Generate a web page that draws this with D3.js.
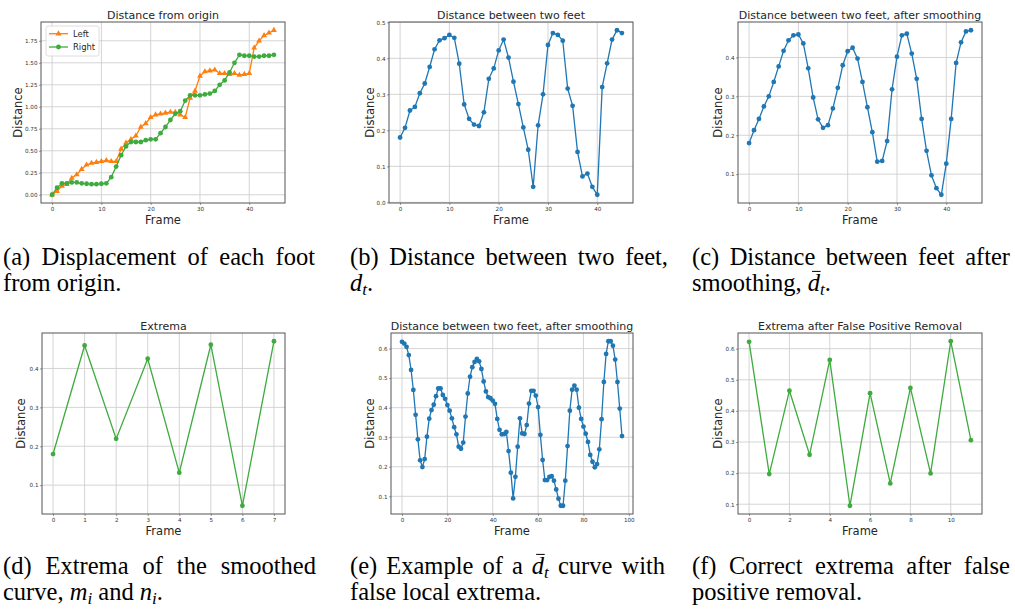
<!DOCTYPE html>
<html>
<head>
<meta charset='utf-8'>
<title>Foot distance panels</title>
<script src='https://cdn.jsdelivr.net/npm/d3@7'></script>
<style>
  body { margin: 0; background: #fff; }
  svg text { font-family: 'DejaVu Sans', sans-serif; fill: #262626; }
  .tick text { fill: #333; }
  .cap text { font-family: 'Liberation Serif', 'Times New Roman', serif; fill: #000; }
</style>
</head>
<body>
<svg width='1015' height='609'></svg>
<script>
const svg = d3.select('svg')

// ---- data ----
const leftFoot = [0.00, 0.04, 0.10, 0.12, 0.19, 0.23, 0.29, 0.34, 0.36, 0.37,
  0.38, 0.39, 0.38, 0.38, 0.52, 0.59, 0.63, 0.67, 0.77, 0.81,
  0.88, 0.91, 0.92, 0.93, 0.94, 0.94, 0.91, 0.88, 1.10, 1.18,
  1.35, 1.40, 1.41, 1.42, 1.38, 1.38, 1.37, 1.38, 1.36, 1.37,
  1.38, 1.67, 1.75, 1.81, 1.84, 1.87]
const rightFoot = [0.00, 0.08, 0.13, 0.13, 0.14, 0.14, 0.13, 0.125, 0.12, 0.12,
  0.125, 0.13, 0.20, 0.32, 0.45, 0.55, 0.60, 0.60, 0.60, 0.62,
  0.63, 0.63, 0.70, 0.77, 0.85, 0.92, 0.95, 1.07, 1.13, 1.13,
  1.13, 1.14, 1.15, 1.18, 1.25, 1.30, 1.39, 1.50, 1.59, 1.58,
  1.58, 1.57, 1.57, 1.58, 1.58, 1.59]
const feetDist = [0.180, 0.207, 0.255, 0.265, 0.303, 0.330, 0.376, 0.425, 0.450, 0.456,
  0.465, 0.457, 0.385, 0.272, 0.232, 0.216, 0.212, 0.250, 0.343, 0.372,
  0.422, 0.452, 0.402, 0.335, 0.273, 0.208, 0.146, 0.043, 0.214, 0.300,
  0.437, 0.470, 0.465, 0.449, 0.316, 0.268, 0.140, 0.072, 0.080, 0.043,
  0.021, 0.320, 0.386, 0.452, 0.478, 0.470]
const feetSmooth = [0.180, 0.213, 0.242, 0.274, 0.300, 0.337, 0.377, 0.417, 0.444, 0.457,
  0.459, 0.436, 0.372, 0.297, 0.241, 0.219, 0.226, 0.269, 0.322, 0.380,
  0.416, 0.425, 0.397, 0.337, 0.272, 0.208, 0.132, 0.134, 0.185, 0.318,
  0.402, 0.457, 0.461, 0.410, 0.345, 0.242, 0.160, 0.097, 0.064, 0.047,
  0.127, 0.242, 0.386, 0.439, 0.467, 0.470]
const extrema = [0.180, 0.459, 0.219, 0.425, 0.132, 0.461, 0.047, 0.470]
const longSmooth = [0.623, 0.617, 0.606, 0.578, 0.528, 0.460, 0.376, 0.293, 0.222, 0.199,
  0.226, 0.302, 0.363, 0.392, 0.410, 0.439, 0.465, 0.465, 0.443, 0.430,
  0.409, 0.390, 0.364, 0.334, 0.310, 0.268, 0.261, 0.282, 0.370, 0.448,
  0.505, 0.537, 0.555, 0.565, 0.557, 0.531, 0.489, 0.455, 0.436, 0.432,
  0.424, 0.413, 0.362, 0.325, 0.310, 0.311, 0.318, 0.253, 0.180, 0.093,
  0.166, 0.268, 0.364, 0.313, 0.311, 0.341, 0.414, 0.457, 0.457, 0.441,
  0.402, 0.308, 0.223, 0.155, 0.155, 0.166, 0.168, 0.153, 0.123, 0.092,
  0.068, 0.068, 0.153, 0.270, 0.390, 0.461, 0.475, 0.461, 0.400, 0.362,
  0.336, 0.312, 0.284, 0.240, 0.217, 0.198, 0.209, 0.259, 0.361, 0.487,
  0.582, 0.625, 0.625, 0.610, 0.563, 0.487, 0.397, 0.304]
const extremaClean = [0.622, 0.197, 0.465, 0.259, 0.564, 0.095, 0.457, 0.167, 0.474, 0.199, 0.624, 0.306]

// tick values
const xTicks45 = [0, 10, 20, 30, 40]
const yTicksA = [0, 0.25, 0.5, 0.75, 1.0, 1.25, 1.5, 1.75]
const yTicksB = [0, 0.1, 0.2, 0.3, 0.4, 0.5]
const yTicksC = [0.1, 0.2, 0.3, 0.4]
const xTicksD = [0, 1, 2, 3, 4, 5, 6, 7]
const xTicksE = [0, 20, 40, 60, 80, 100]
const yTicksE = [0.1, 0.2, 0.3, 0.4, 0.5, 0.6]
const xTicksF = [0, 2, 4, 6, 8, 10]

const blue = '#1f77b4', orange = '#ff7f0e', green = '#3dab3d'

const panels = [
  { box: [41, 22, 285, 203], title: 'Distance from origin', yOff: 19,
    series: [{ name: 'Left', values: leftFoot, color: orange, marker: 'tri' },
             { name: 'Right', values: rightFoot, color: green, marker: 'dot' }],
    xTicks: xTicks45, yTicks: yTicksA, yFmt: '.2f', legend: true },
  { box: [389, 22, 633, 203], title: 'Distance between two feet', yOff: 15,
    series: [{ values: feetDist, color: blue, marker: 'dot' }],
    xTicks: xTicks45, yTicks: yTicksB, yFmt: '.1f' },
  { box: [738, 22, 982, 203], title: 'Distance between two feet, after smoothing', yOff: 16,
    series: [{ values: feetSmooth, color: blue, marker: 'dot' }],
    xTicks: xTicks45, yTicks: yTicksC, yFmt: '.1f' },
  { box: [42, 333, 285, 514], title: 'Extrema', yOff: 17,
    series: [{ values: extrema, color: green, marker: 'dot' }],
    xTicks: xTicksD, yTicks: yTicksC, yFmt: '.1f' },
  { box: [391, 333, 633, 514], title: 'Distance between two feet, after smoothing', yOff: 17,
    series: [{ values: longSmooth, color: blue, marker: 'dot' }],
    xTicks: xTicksE, yTicks: yTicksE, yFmt: '.1f' },
  { box: [738, 333, 982, 514], title: 'Extrema after False Positive Removal', yOff: 16,
    series: [{ values: extremaClean, color: green, marker: 'dot' }],
    xTicks: xTicksF, yTicks: yTicksE, yFmt: '.1f' }
]

function drawMarkers(g, s, x, y) {
  if (s.marker === 'tri') {
    g.selectAll(null).data(s.values).enter().append('path')
      .attr('d', d3.symbol(d3.symbolTriangle).size(15))
      .attr('transform', (d, i) => `translate(${x(i)},${y(d)})`)
      .attr('fill', s.color)
  } else {
    g.selectAll(null).data(s.values).enter().append('circle')
      .attr('cx', (d, i) => x(i)).attr('cy', d => y(d)).attr('r', 2.4)
      .attr('fill', s.color)
  }
}

function panel(p) {
  const [l, t, r, b] = p.box
  const g = svg.append('g')
  const n = d3.max(p.series, s => s.values.length) - 1
  const x = d3.scaleLinear().domain([-n * 0.05, n * 1.05]).range([l, r])
  const [lo, hi] = d3.extent(p.series.flatMap(s => s.values))
  const pad = (hi - lo) * 0.05
  const y = d3.scaleLinear().domain([lo - pad, hi + pad]).range([b, t])

  // grid
  g.append('g').selectAll('line').data(p.xTicks).enter().append('line')
    .attr('x1', d => x(d)).attr('x2', d => x(d)).attr('y1', t).attr('y2', b)
    .attr('stroke', '#cfcfcf').attr('stroke-width', 0.9)
  g.append('g').selectAll('line').data(p.yTicks).enter().append('line')
    .attr('y1', d => y(d)).attr('y2', d => y(d)).attr('x1', l).attr('x2', r)
    .attr('stroke', '#cfcfcf').attr('stroke-width', 0.9)

  // axes
  const ax = g.append('g').attr('transform', `translate(0,${b})`)
    .call(d3.axisBottom(x).tickValues(p.xTicks).tickFormat(d3.format('d')).tickSize(2).tickPadding(2.5))
  const ay = g.append('g').attr('transform', `translate(${l},0)`)
    .call(d3.axisLeft(y).tickValues(p.yTicks).tickFormat(d3.format(p.yFmt)).tickSize(2).tickPadding(1.5))
  for (const a of [ax, ay]) {
    a.select('.domain').remove()
    a.selectAll('.tick line').attr('stroke', '#555').attr('stroke-width', 0.6)
    a.selectAll('.tick text').attr('font-size', 5.6).attr('font-family', 'DejaVu Sans')
  }

  // series
  for (const s of p.series) {
    g.append('path').datum(s.values)
      .attr('d', d3.line().x((d, i) => x(i)).y(d => y(d)))
      .attr('fill', 'none').attr('stroke', s.color).attr('stroke-width', 1.3)
    drawMarkers(g, s, x, y)
  }

  // frame
  g.append('rect').attr('x', l).attr('y', t).attr('width', r - l).attr('height', b - t)
    .attr('fill', 'none').attr('stroke', '#555').attr('stroke-width', 1)

  // labels
  g.append('text').attr('x', (l + r) / 2).attr('y', t - 3).attr('text-anchor', 'middle')
    .attr('font-size', 11).text(p.title)
  g.append('text').attr('x', (l + r) / 2).attr('y', b + 20.5).attr('text-anchor', 'middle')
    .attr('font-size', 11.5).text('Frame')
  g.append('text').attr('transform', `translate(${l - p.yOff},${(t + b) / 2}) rotate(-90)`)
    .attr('text-anchor', 'middle').attr('font-size', 11.5).text('Distance')

  if (p.legend) {
    const lg = g.append('g')
    lg.append('rect').attr('x', l + 5).attr('y', t + 4).attr('width', 53).attr('height', 30)
      .attr('rx', 2).attr('fill', '#fff').attr('fill-opacity', 0.8)
      .attr('stroke', '#d6d6d6').attr('stroke-width', 0.8)
    p.series.forEach((s, i) => {
      const cy = t + 11.7 + i * 13.3
      lg.append('line').attr('x1', l + 8).attr('x2', l + 27).attr('y1', cy).attr('y2', cy)
        .attr('stroke', s.color).attr('stroke-width', 1.3)
      drawMarkers(lg, { values: [0], color: s.color, marker: s.marker },
        () => l + 17.5, () => cy)
      lg.append('text').attr('x', l + 32).attr('y', cy + 3).attr('font-size', 8.4).text(s.name)
    })
  }
}

panels.forEach(panel)

// ---- captions (justified first line, like the paper) ----
const IT = t => ({ t, it: true })
const SUB = t => ({ t, it: true, sub: true })
const captions = [
  { x: 3, y: 265, w: 312, lines: [['(a) Displacement of each foot'], ['from origin.']] },
  { x: 350, y: 265, w: 318, lines: [['(b) Distance between two feet,'], [[IT('d'), SUB('t'), { t: '.' }]]] },
  { x: 692, y: 265, w: 318, lines: [['(c) Distance between feet after'],
    ['smoothing,', [{ t: 'd', it: true, bar: true }, SUB('t'), { t: '.' }]]] },
  { x: 3, y: 574, w: 313, lines: [['(d) Extrema of the smoothed'],
    ['curve,', [IT('m'), SUB('i')], 'and', [IT('n'), SUB('i'), { t: '.' }]]] },
  { x: 350, y: 574, w: 315, lines: [['(e) Example of a', [{ t: 'd', it: true, bar: true }, SUB('t')], 'curve with'],
    ['false local extrema.']] },
  { x: 692, y: 574, w: 318, lines: [['(f) Correct extrema after false'], ['positive removal.']] }
]

function caption(c) {
  const fs = 24.5
  const g = svg.append('g').attr('class', 'cap')
  c.lines.forEach((line, li) => {
    const y = c.y + li * 26
    const words = line.flatMap(tok => typeof tok === 'string' ? tok.split(' ').map(w => [{ t: w }]) : [tok])
    const items = words.map(segs => {
      const t = g.append('text').attr('y', y).attr('font-size', fs)
      let shift = 0, ci = 0
      const bars = []
      segs.forEach(s => {
        const ts = t.append('tspan').text(s.t)
        if (s.it) ts.attr('font-style', 'italic')
        if (s.sub) { ts.attr('font-size', fs * 0.7); if (!shift) { ts.attr('dy', 4); shift = 4 } }
        else if (shift) { ts.attr('dy', -shift); shift = 0 }
        if (s.bar) bars.push(ci)
        ci += s.t.length
      })
      return { t, bars, w: t.node().getComputedTextLength() }
    })
    const total = d3.sum(items, d => d.w)
    const gap = li === 0 && items.length > 1 ? (c.w - total) / (items.length - 1) : fs * 0.25
    let cx = c.x
    items.forEach(it => {
      it.t.attr('x', cx)
      cx += it.w + gap
      it.bars.forEach(k => {
        const e = it.t.node().getExtentOfChar(k)
        g.append('line').attr('x1', e.x + e.width * 0.35).attr('x2', e.x + e.width * 1.05)
          .attr('y1', y - fs * 0.8).attr('y2', y - fs * 0.8).attr('stroke', '#000').attr('stroke-width', 1)
      })
    })
  })
}

captions.forEach(caption)
</script>
</body>
</html>
